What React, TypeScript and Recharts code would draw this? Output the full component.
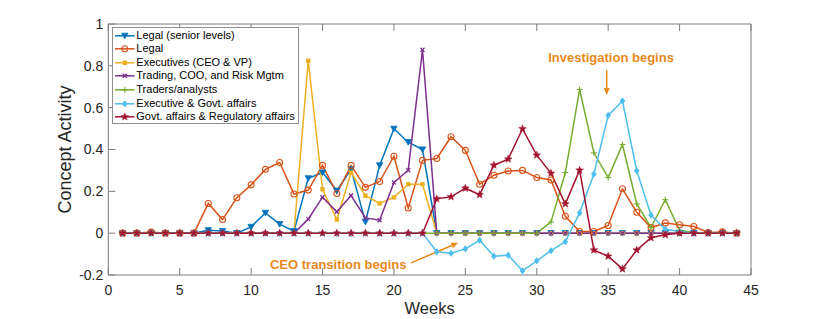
import React from 'react';
import { LineChart, Line, XAxis, YAxis, Legend, ReferenceLine, ReferenceDot } from 'recharts';

const weeks = [1,2,3,4,5,6,7,8,9,10,11,12,13,14,15,16,17,18,19,20,21,22,23,24,25,26,27,28,29,30,31,32,33,34,35,36,37,38,39,40,41,42,43,44];

const legalSenior = [0,0,0,0,0,0,0.014,0.01,0,0.03,0.097,0.043,0.01,0.262,0.29,0.203,0.305,0.054,0.324,0.499,0.435,0.4,0,0,0,0,0,0,0,0,0,0,0,0,0,0,0,0,0,0,0,0,0,0];
const legal = [0,0,0.005,0,0,0,0.142,0.065,0.169,0.231,0.305,0.338,0.187,0.206,0.324,0.19,0.324,0.219,0.247,0.368,0.12,0.348,0.357,0.461,0.396,0.234,0.277,0.297,0.3,0.266,0.254,0.081,0.008,0.008,0.037,0.212,0.1,0.027,0.049,0.04,0.032,0.003,0.006,0];
const executives = [0,0,0,0,0,0,0,0,0,0,0,0,0,0.824,0.21,0.065,0.29,0.179,0.142,0.171,0.234,0.234,0,0,0,0,0,0,0,0,0,0,0,0,0,0,0,0,0,0,0,0,0,0];
const trading = [0,0,0,0,0,0,0,0,0,0,0,0,0,0.067,0.172,0.102,0.18,0.073,0.062,0.242,0.301,0.877,0,0,0,0,0,0,0,0,0,0,0,0,0,0,0,0,0,0,0,0,0,0];
const traders = [0,0,0,0,0,0,0,0,0,0,0,0,0,0,0,0,0,0,0,0,0,0,0,0,0,0,0,0,0,0,0.054,0.29,0.687,0.384,0.266,0.424,0.14,0.027,0.16,0.014,0.003,0,0,0];
const execGovt = [0,0,0,0,0,0,0,0,0,0,0,0,0,0,0,0,0,0,0,0,0,0,-0.089,-0.096,-0.075,-0.034,-0.11,-0.105,-0.18,-0.132,-0.084,-0.041,0.097,0.282,0.563,0.632,0.298,0.086,0.019,0.008,0,0,0,0];
const govtReg = [0,0,0,0,0,0,0,0,0,0,0,0,0,0,0,0,0,0,0,0,0,0,0.164,0.174,0.215,0.184,0.325,0.354,0.499,0.373,0.286,0.14,0.301,-0.081,-0.11,-0.171,-0.081,-0.022,-0.008,0,0,0,0,0];

const seriesNames = [
  'Legal (senior levels)',
  'Legal',
  'Executives (CEO & VP)',
  'Trading, COO, and Risk Mgtm',
  'Traders/analysts',
  'Executive & Govt. affairs',
  'Govt. affairs & Regulatory affairs',
];

const xTicks = [0, 5, 10, 15, 20, 25, 30, 35, 40, 45];
const yTicks = [-0.2, 0, 0.2, 0.4, 0.6, 0.8, 1];

const FONT = '"Liberation Sans", Arial, Helvetica, sans-serif';
const ORANGE = '#E8891C';
const AXIS = '#7d7d7d';

type Shape = 'tri' | 'circle' | 'square' | 'x' | 'plus' | 'diamond' | 'star';

const series: { key: string; name: string; color: string; shape: Shape; values: number[] }[] = [
  { key: 's0', name: seriesNames[0], color: '#0072BD', shape: 'tri', values: legalSenior },
  { key: 's1', name: seriesNames[1], color: '#D95319', shape: 'circle', values: legal },
  { key: 's2', name: seriesNames[2], color: '#EDB120', shape: 'square', values: executives },
  { key: 's3', name: seriesNames[3], color: '#7E2F8E', shape: 'x', values: trading },
  { key: 's4', name: seriesNames[4], color: '#77AC30', shape: 'plus', values: traders },
  { key: 's5', name: seriesNames[5], color: '#4DBEEE', shape: 'diamond', values: execGovt },
  { key: 's6', name: seriesNames[6], color: '#A2142F', shape: 'star', values: govtReg },
];

const data = weeks.map((w, i) => {
  const row: Record<string, number> = { week: w };
  series.forEach((s) => { row[s.key] = s.values[i]; });
  return row;
});

function starPoints(cx: number, cy: number, R: number, r: number) {
  const pts: string[] = [];
  for (let i = 0; i < 10; i++) {
    const rad = i % 2 === 0 ? R : r;
    const a = -Math.PI / 2 + (i * Math.PI) / 5;
    pts.push(`${cx + rad * Math.cos(a)},${cy + rad * Math.sin(a)}`);
  }
  return pts.join(' ');
}

function Marker({ shape, cx, cy, color }: { shape: Shape; cx: number; cy: number; color: string }) {
  switch (shape) {
    case 'tri':
      return <polygon points={`${cx - 3.2},${cy - 2.6} ${cx + 3.2},${cy - 2.6} ${cx},${cy + 3}`} fill={color} stroke={color} strokeWidth={0.8} />;
    case 'circle':
      return <circle cx={cx} cy={cy} r={3} fill="none" stroke={color} strokeWidth={1.1} />;
    case 'square':
      return <rect x={cx - 2.2} y={cy - 2.2} width={4.4} height={4.4} fill={color} />;
    case 'x':
      return (
        <g stroke={color} strokeWidth={1.3}>
          <line x1={cx - 2} y1={cy - 2} x2={cx + 2} y2={cy + 2} />
          <line x1={cx - 2} y1={cy + 2} x2={cx + 2} y2={cy - 2} />
        </g>
      );
    case 'plus':
      return (
        <g stroke={color} strokeWidth={1.1}>
          <line x1={cx - 3} y1={cy} x2={cx + 3} y2={cy} />
          <line x1={cx} y1={cy - 3} x2={cx} y2={cy + 3} />
        </g>
      );
    case 'diamond':
      return <polygon points={`${cx},${cy - 3.6} ${cx + 2.8},${cy} ${cx},${cy + 3.6} ${cx - 2.8},${cy}`} fill={color} />;
    case 'star':
    default:
      return <polygon points={starPoints(cx, cy, 4, 1.7)} fill={color} stroke={color} strokeWidth={0.5} />;
  }
}

function LegendBox() {
  return (
    <div
      style={{
        boxSizing: 'border-box',
        width: 187,
        height: 97,
        border: '1px solid #8f8f8f',
        background: '#fff',
        paddingTop: 1,
        fontFamily: FONT,
        fontSize: 11,
        color: '#000',
      }}
    >
      {series.map((s) => (
        <div key={s.key} style={{ display: 'flex', alignItems: 'center', height: 13.6, whiteSpace: 'nowrap' }}>
          <svg width={23} height={13.6} style={{ flex: 'none' }}>
            <line x1={2} y1={6.8} x2={21.5} y2={6.8} stroke={s.color} strokeWidth={1.5} />
            <Marker shape={s.shape} cx={11.8} cy={6.8} color={s.color} />
          </svg>
          <span style={{ lineHeight: '13.6px' }}>{s.name}</span>
        </div>
      ))}
    </div>
  );
}

function Arrow(props: any) {
  const { x1, y1, x2, y2 } = props;
  if ([x1, y1, x2, y2].some((v) => typeof v !== 'number' || isNaN(v))) return null;
  const ang = Math.atan2(y2 - y1, x2 - x1);
  const L = 7;
  const W = 3;
  const bx = x2 - L * Math.cos(ang);
  const by = y2 - L * Math.sin(ang);
  const px = -Math.sin(ang) * W;
  const py = Math.cos(ang) * W;
  return (
    <g>
      <line x1={x1} y1={y1} x2={bx} y2={by} stroke={ORANGE} strokeWidth={1.5} />
      <polygon points={`${x2},${y2} ${bx + px},${by + py} ${bx - px},${by - py}`} fill={ORANGE} />
    </g>
  );
}

function annText(value: string) {
  return (p: any) => (
    <text
      x={p.cx}
      y={p.cy}
      textAnchor="middle"
      dominantBaseline="central"
      fill={ORANGE}
      fontFamily={FONT}
      fontSize={13}
      fontWeight="bold"
    >
      {value}
    </text>
  );
}

export default function App() {
  return (
    <div style={{ position: 'absolute', left: 0, top: 0, width: 830, height: 319, background: '#fff' }}>
      <LineChart
        width={830}
        height={319}
        data={data}
        margin={{ top: 24, right: 79, bottom: 14, left: 58.3 }}
        style={{ fontFamily: FONT }}
      >
        <XAxis
          type="number"
          dataKey="week"
          domain={[0, 45]}
          ticks={xTicks}
          interval={0}
          height={30}
          tickSize={-7}
          tickMargin={17}
          axisLine={{ stroke: AXIS }}
          tickLine={{ stroke: AXIS }}
          tick={{ fill: '#262626', fontSize: 14, fontFamily: FONT }}
          label={{
            content: (p: any) => {
              const vb = p.viewBox || {};
              return (
                <text x={vb.x + vb.width / 2} y={vb.y + 39} textAnchor="middle" fill="#262626" fontSize={16.5} fontFamily={FONT}>
                  Weeks
                </text>
              );
            },
          }}
        />
        <XAxis
          xAxisId="top"
          orientation="top"
          type="number"
          dataKey="week"
          domain={[0, 45]}
          ticks={xTicks}
          interval={0}
          mirror
          tickSize={7}
          tickFormatter={() => ''}
          axisLine={{ stroke: AXIS }}
          tickLine={{ stroke: AXIS }}
        />
        <YAxis
          type="number"
          domain={[-0.2, 1]}
          ticks={yTicks}
          interval={0}
          width={50}
          tickSize={-7}
          tickMargin={12}
          axisLine={{ stroke: AXIS }}
          tickLine={{ stroke: AXIS }}
          tick={{ fill: '#262626', fontSize: 14, fontFamily: FONT }}
          tickFormatter={(v: number) => String(Math.round(v * 10) / 10)}
          label={{
            content: (p: any) => {
              const vb = p.viewBox || {};
              const bx = vb.x + vb.width - 37.3;
              const cy = vb.y + vb.height / 2;
              return (
                <text x={bx} y={cy} transform={`rotate(-90, ${bx}, ${cy})`} textAnchor="middle" fill="#262626" fontSize={18} fontFamily={FONT}>
                  Concept Activity
                </text>
              );
            },
          }}
        />
        <YAxis
          yAxisId="right"
          orientation="right"
          type="number"
          domain={[-0.2, 1]}
          ticks={yTicks}
          interval={0}
          mirror
          tickSize={7}
          tickFormatter={() => ''}
          axisLine={{ stroke: AXIS }}
          tickLine={{ stroke: AXIS }}
        />
        {series.map((s) => (
          <Line
            key={s.key}
            type="linear"
            dataKey={s.key}
            name={s.name}
            stroke={s.color}
            strokeWidth={1.5}
            isAnimationActive={false}
            dot={(p: any) => (
              <g key={`${s.key}-${p.index}`}>
                <Marker shape={s.shape} cx={p.cx} cy={p.cy} color={s.color} />
              </g>
            )}
            activeDot={false}
          />
        ))}
        <ReferenceLine segment={[{ x: 34.9, y: 0.779 }, { x: 34.9, y: 0.66 }]} shape={Arrow} />
        <ReferenceLine segment={[{ x: 21.2, y: -0.142 }, { x: 24.5, y: -0.046 }]} shape={Arrow} />
        <ReferenceDot x={35.2} y={0.842} r={0} shape={annText('Investigation begins')} />
        <ReferenceDot x={16.1} y={-0.148} r={0} shape={annText('CEO transition begins')} />
        <Legend
          layout="horizontal"
          verticalAlign="middle"
          align="center"
          wrapperStyle={{ left: 112.3, top: 26.7, width: 'auto', height: 'auto' }}
          content={() => <LegendBox />}
        />
      </LineChart>
    </div>
  );
}
